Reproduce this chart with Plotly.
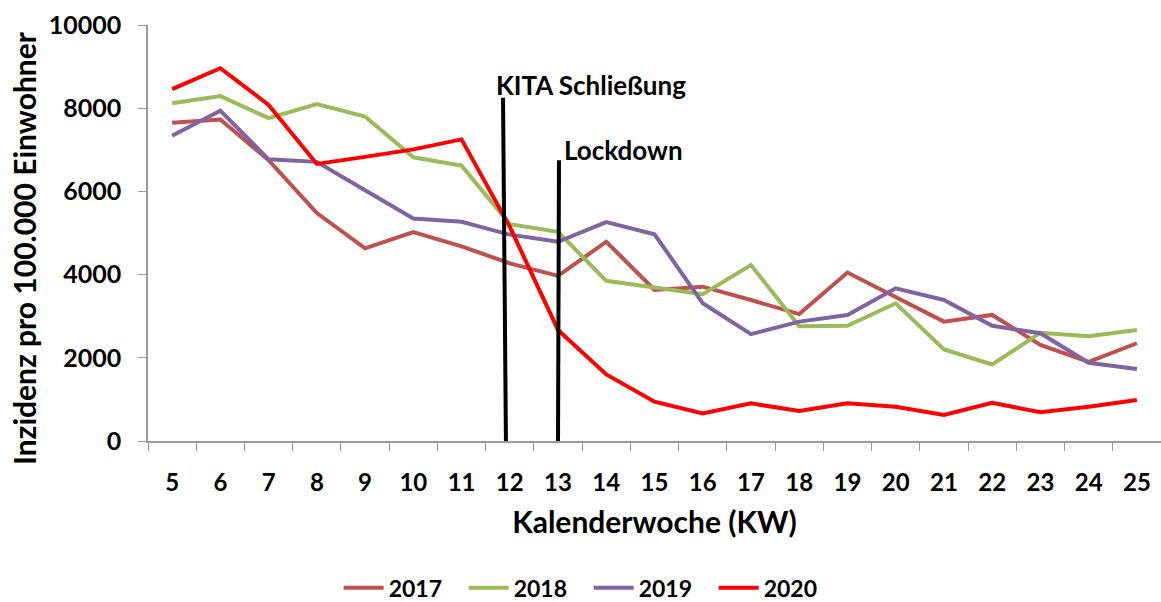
import plotly.graph_objects as go

weeks = [str(w) for w in range(5, 26)]
y2017 = [7650, 7730, 6750, 5480, 4630, 5020, 4680, 4270, 3970, 4790, 3630, 3710, 3390, 3050, 4050, 3450, 2870, 3030, 2310, 1900, 2350]
y2018 = [8120, 8290, 7760, 8100, 7800, 6820, 6620, 5210, 5030, 3850, 3690, 3530, 4230, 2760, 2770, 3310, 2200, 1840, 2600, 2520, 2670]
y2019 = [7340, 7940, 6770, 6710, 6030, 5350, 5270, 4960, 4790, 5260, 4970, 3310, 2570, 2870, 3030, 3670, 3390, 2770, 2590, 1880, 1730]
y2020 = [8460, 8960, 8080, 6660, 6830, 7010, 7250, 5150, 2670, 1600, 945, 665, 905, 720, 905, 825, 625, 920, 690, 825, 985]

series_names = ["2017", "2018", "2019", "2020"]
series_vals = [y2017, y2018, y2019, y2020]
colors = ["#C0504D", "#9BBB59", "#8064A2", "#FF0000"]

y_ticks = [0, 2000, 4000, 6000, 8000, 10000]

event_labels = ["KITA Schließung", "Lockdown"]
event_x_top = [6.86, 8.02]      # category index positions
event_x_bottom = [6.92, 8.00]
event_top = [8250, 6750]
label_x = [6.67, 8.08]
label_y = [8560, 7000]

y_title = "Inzidenz pro 100.000 Einwohner"
x_title = "Kalenderwoche (KW)"

FONT = "Lato"

fig = go.Figure()
for name, vals, c in zip(series_names, series_vals, colors):
    fig.add_trace(go.Scatter(x=weeks, y=vals, mode="lines", name=name,
                             line=dict(color=c, width=4)))

for lab, xt, xb, top, lx, ly in zip(event_labels, event_x_top, event_x_bottom, event_top, label_x, label_y):
    fig.add_shape(type="line", xref="x", yref="y", x0=xt, y0=top, x1=xb, y1=0,
                  line=dict(color="black", width=4))
    fig.add_annotation(x=lx, y=ly, xref="x", yref="y", text=lab, showarrow=False,
                       xanchor="left", yanchor="middle",
                       font=dict(family=FONT, size=26, color="black", weight="bold"))

fig.add_annotation(x=-0.1224, y=0.464, xref="paper", yref="paper", text=y_title,
                   showarrow=False, textangle=-90, xanchor="center", yanchor="middle",
                   font=dict(family=FONT, size=30, color="black", weight="bold"))

fig.update_layout(
    width=1161, height=602,
    margin=dict(l=148, r=0, t=25, b=161, autoexpand=False),
    paper_bgcolor="white", plot_bgcolor="white",
    font=dict(family=FONT, color="black"),
    showlegend=True,
    legend=dict(orientation="h", x=0.435, xanchor="center", y=-0.353, yanchor="middle",
                font=dict(family=FONT, size=23, weight="bold"), itemwidth=40,
                entrywidth=70, entrywidthmode="pixels",
                tracegroupgap=0),
)
fig.update_xaxes(
    type="category", range=[-0.5, 20.5], automargin=False,
    showline=True, linecolor="#9a9a9a", linewidth=1.5,
    ticks="outside", ticklen=8, tickcolor="#9a9a9a", tickson="boundaries",
    showgrid=False, zeroline=False,
    tickfont=dict(family=FONT, size=24, weight="bold"),
    ticklabelstandoff=19,
    title=dict(text=x_title, font=dict(family=FONT, size=30, weight="bold"), standoff=17),
)
fig.update_yaxes(
    range=[0, 10000], tickvals=y_ticks, ticktext=[str(v) for v in y_ticks], automargin=False,
    showline=True, linecolor="#9a9a9a", linewidth=1.5,
    ticks="outside", ticklen=8, tickcolor="#9a9a9a",
    showgrid=False, zeroline=False,
    tickfont=dict(family=FONT, size=25, weight="bold"),
    ticklabelstandoff=12,
)

fig.write_html("out.html", config={"displayModeBar": False},
               post_script="document.body.style.margin='0';")
